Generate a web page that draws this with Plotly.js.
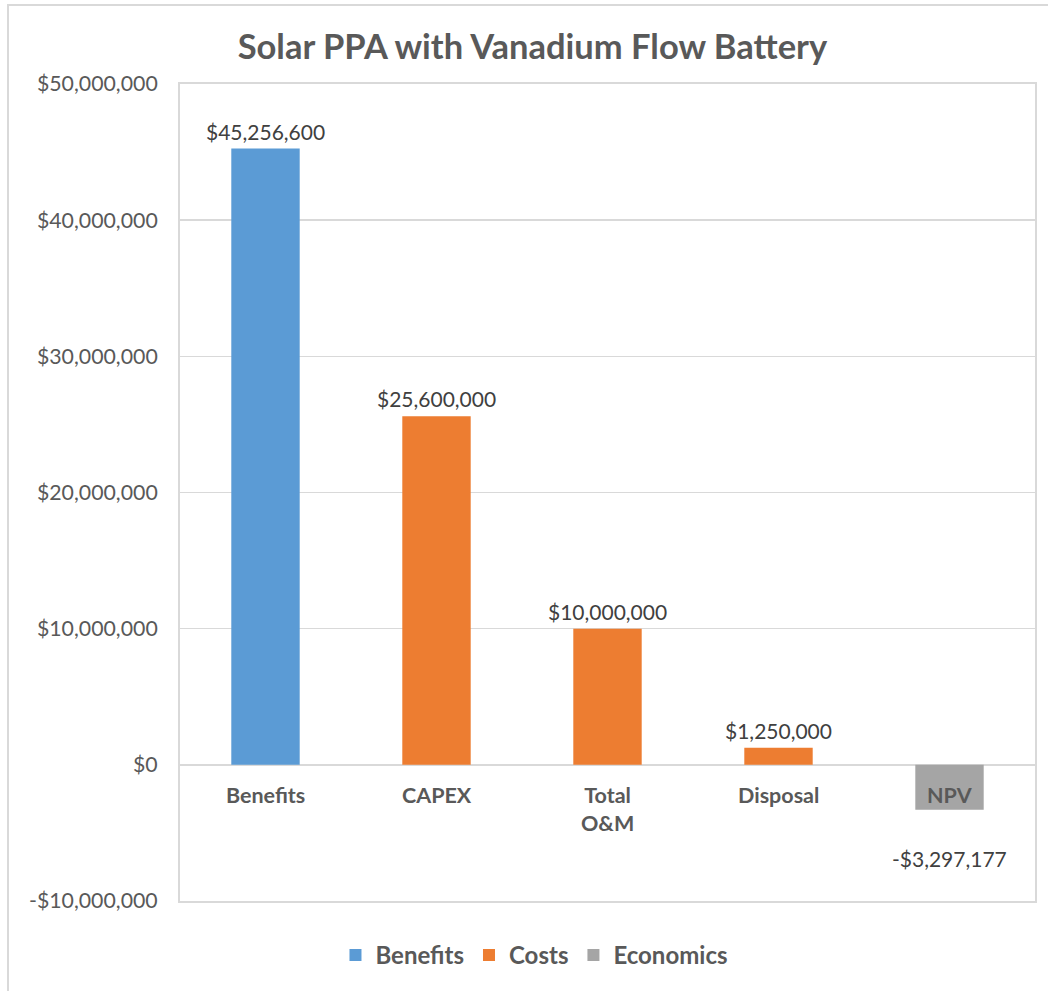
<!DOCTYPE html>
<html>
<head>
<meta charset="utf-8">
<script src="https://cdn.plot.ly/plotly-3.0.1.min.js"></script>
<style>
  html, body { margin: 0; padding: 0; background: #fff; }
  #wrap { position: relative; width: 1048px; height: 991px; overflow: hidden; }
  #chart { position: absolute; left: 0; top: 0; width: 1048px; height: 991px; }
  #frame { position: absolute; left: 7px; top: 4px; width: 1100px; height: 1100px;
           border-left: 2px solid #d9d9d9; border-top: 2px solid #d9d9d9; pointer-events: none; }
</style>
</head>
<body>
<div id="wrap"><div id="chart"></div><div id="frame"></div></div>
<script>
const categories = ['Benefits', 'CAPEX', 'Total O&M', 'Disposal', 'NPV'];
const categoryLabels = ['Benefits', 'CAPEX', 'Total<br>O&M', 'Disposal', 'NPV'];

const benefitsCats = ['Benefits'];
const benefitsVals = [45256600];
const costsCats = ['CAPEX', 'Total O&M', 'Disposal'];
const costsVals = [25600000, 10000000, 1250000];
const economicsCats = ['NPV'];
const economicsVals = [-3297177];

const yTickVals = [-10000000, 0, 10000000, 20000000, 30000000, 40000000, 50000000];

function money(v) {
  const s = Math.abs(Math.round(v)).toString().replace(/\B(?=(\d{3})+(?!\d))/g, ',');
  return (v < 0 ? '-$' : '$') + s;
}

const FONT = 'Lato, "Open Sans", sans-serif';
const colors = { Benefits: '#5B9BD5', Costs: '#ED7D31', Economics: '#A5A5A5' };

const traces = [
  { type: 'bar', name: 'Benefits', x: benefitsCats, y: benefitsVals, width: 0.4,
    marker: { color: colors.Benefits }, hoverinfo: 'skip' },
  { type: 'bar', name: 'Costs', x: costsCats, y: costsVals, width: 0.4,
    marker: { color: colors.Costs }, hoverinfo: 'skip' },
  { type: 'bar', name: 'Economics', x: economicsCats, y: economicsVals, width: 0.4,
    marker: { color: colors.Economics }, hoverinfo: 'skip' }
];

const annotations = [];
// category labels just below the zero line
categories.forEach((c, i) => {
  annotations.push({ x: c, y: 0, xref: 'x', yref: 'y', text: '<b>' + categoryLabels[i] + '</b>',
    showarrow: false, yanchor: 'top', yshift: -15,
    font: { family: FONT, size: 21.5, color: '#595959' } });
});
// data labels
const allCats = benefitsCats.concat(costsCats, economicsCats);
const allVals = benefitsVals.concat(costsVals, economicsVals);
allCats.forEach((c, i) => {
  const v = allVals[i];
  annotations.push({ x: c, y: v, xref: 'x', yref: 'y', text: money(v), showarrow: false,
    yanchor: v >= 0 ? 'bottom' : 'top', yshift: v >= 0 ? 3 : -34,
    font: { family: FONT, size: 21, color: '#404040' } });
});

const layout = {
  width: 1048, height: 991,
  margin: { l: 180, r: 13, t: 84, b: 90 },
  paper_bgcolor: '#fff', plot_bgcolor: '#fff',
  barmode: 'overlay',
  title: { text: '<b>Solar PPA with Vanadium Flow Battery</b>', xref: 'container', yref: 'container',
    x: 0.508, y: 0.953, xanchor: 'center', yanchor: 'middle',
    font: { family: FONT, size: 34.5, color: '#595959' } },
  xaxis: { type: 'category', categoryorder: 'array', categoryarray: categories, range: [-0.5, 4.5],
    showticklabels: false, ticks: '', showgrid: false, zeroline: false,
    showline: true, mirror: true, linecolor: '#d9d9d9', linewidth: 2 },
  yaxis: { range: [-10000000, 50000000], tickvals: yTickVals, ticktext: yTickVals.map(money),
    showgrid: true, gridcolor: '#d9d9d9', gridwidth: 1.5, zeroline: true, zerolinecolor: '#d9d9d9', zerolinewidth: 2,
    showline: true, mirror: true, linecolor: '#d9d9d9', linewidth: 2, ticks: '', ticklabelstandoff: 16,
    tickfont: { family: FONT, size: 21.3, color: '#595959' } },
  showlegend: true,
  legend: { orientation: 'h', xref: 'container', yref: 'container', x: 0.51, y: 0.036,
    xanchor: 'center', yanchor: 'middle', font: { family: FONT, size: 24, color: '#595959', weight: 'bold' },
    itemclick: false, itemdoubleclick: false },
  annotations: annotations
};

Plotly.newPlot('chart', traces, layout, { displayModeBar: false, staticPlot: true });
</script>
</body>
</html>
